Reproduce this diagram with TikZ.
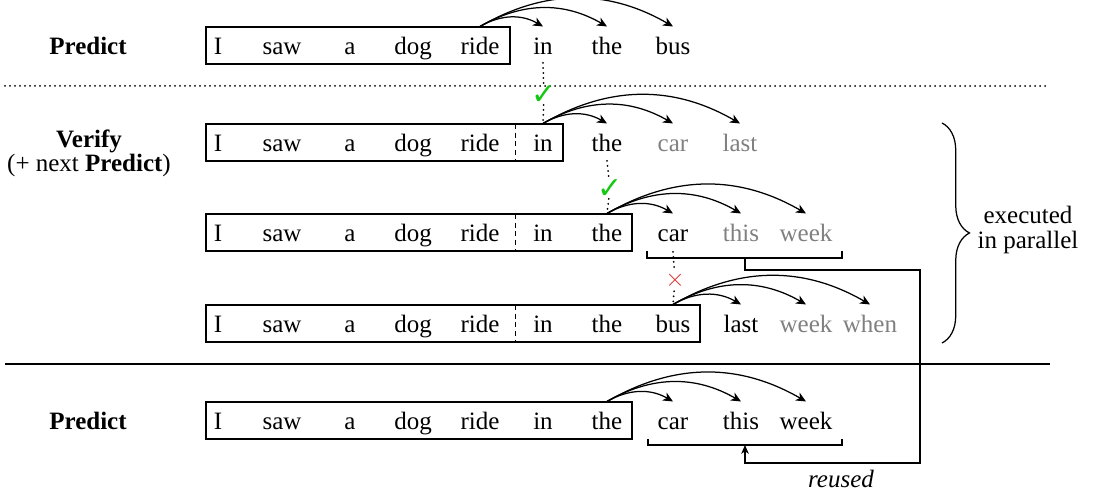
\documentclass[tikz,border=0pt]{standalone}
\usepackage{fontspec}
\setmainfont{Liberation Serif}
\newfontfamily\symfont{DejaVu Sans}
\usetikzlibrary{arrows.meta,calc,decorations.pathreplacing}
\definecolor{okgreen}{RGB}{20,200,20}
\definecolor{badred}{RGB}{220,50,50}
\begin{document}
\begin{tikzpicture}[x=0.4pt,y=-0.4pt,
  word/.style={anchor=base, inner xsep=0pt, inner ysep=4.2pt, text height=7pt, text depth=2pt},
  gw/.style={word, text=gray},
  box/.style={draw, line width=0.5pt},
  divider/.style={line width=0.4pt, dash pattern=on 2pt off 1.5pt},
  arc/.style={-{Stealth[length=4pt,width=3.6pt,inset=1.2pt]}, line width=0.5pt, bend left=30},
  dots/.style={line width=0.8pt, line cap=round, dash pattern=on 0pt off 2pt},
  chk/.style={text=okgreen, font=\symfont\large, inner sep=0pt},
  crs/.style={text=badred, inner sep=1pt},
  bracket/.style={line width=0.5pt},
  reuse/.style={line width=0.5pt, -{Stealth[length=3.5pt,width=3pt,inset=1pt]}},
  lbl/.style={anchor=base, font=\bfseries}
]
\useasboundingbox (0,0) rectangle (1095,497);

% separators
\draw[dots] (5,86) -- (1050,86);
\draw[line width=0.8pt] (5,364) -- (1050,364);

% labels
\node[lbl] (p1) at (88,55) {Predict};
\node[align=center, inner sep=0pt] (v) at (89,153) {\textbf{Verify}\\[-2.5pt](+ next \textbf{Predict})};
\node[lbl] (p2) at (88,430) {Predict};

% ---------- row 1 ----------
\draw[box] (206,27) rectangle (510,64);
\node[word] (r1i) at (218,55) {I};
\node[word] (r1saw) at (282,55) {saw};
\node[word] (r1a) at (350,55) {a};
\node[word] (r1dog) at (413,55) {dog};
\node[word] (r1ride) at (480,55) {ride};
\node[word] (r1in) at (543,55) {in};
\node[word] (r1the) at (607,55) {the};
\node[word] (r1bus) at (673,55) {bus};
\draw[arc] (r1ride.north) to (r1in.north);
\draw[arc] (r1ride.north) to (r1the.north);
\draw[arc] (r1ride.north) to (r1bus.north);

% ---------- row 2 ----------
\draw[box] (206,124) rectangle (563,161);
\draw[divider] (515,124) -- (515,161);
\node[word] (r2i) at (218,152) {I};
\node[word] (r2saw) at (282,152) {saw};
\node[word] (r2a) at (350,152) {a};
\node[word] (r2dog) at (413,152) {dog};
\node[word] (r2ride) at (480,152) {ride};
\node[word] (r2in) at (543,152) {in};
\node[word] (r2the) at (607,152) {the};
\node[gw] (r2car) at (673,152) {car};
\node[gw] (r2last) at (740,152) {last};
\draw[arc] (r2in.north) to (r2the.north);
\draw[arc] (r2in.north) to (r2car.north);
\draw[arc] (r2in.north) to (r2last.north);

% ---------- row 3 ----------
\draw[box] (206,214) rectangle (632,251);
\draw[divider] (515,214) -- (515,251);
\node[word] (r3i) at (218,242) {I};
\node[word] (r3saw) at (282,242) {saw};
\node[word] (r3a) at (350,242) {a};
\node[word] (r3dog) at (413,242) {dog};
\node[word] (r3ride) at (480,242) {ride};
\node[word] (r3in) at (543,242) {in};
\node[word] (r3the) at (607,242) {the};
\node[word] (r3car) at (673,242) {car};
\node[gw] (r3this) at (741,242) {this};
\node[gw] (r3week) at (806,242) {week};
\draw[arc] (r3the.north) to (r3car.north);
\draw[arc] (r3the.north) to (r3this.north);
\draw[arc] (r3the.north) to (r3week.north);
\draw[bracket] (647,251) -- (647,258) -- (842,258) -- (842,251);
\coordinate (b3) at (745,258);

% ---------- row 4 ----------
\draw[box] (206,305) rectangle (700,342);
\draw[divider] (515,305) -- (515,342);
\node[word] (r4i) at (218,333) {I};
\node[word] (r4saw) at (282,333) {saw};
\node[word] (r4a) at (350,333) {a};
\node[word] (r4dog) at (413,333) {dog};
\node[word] (r4ride) at (480,333) {ride};
\node[word] (r4in) at (543,333) {in};
\node[word] (r4the) at (607,333) {the};
\node[word] (r4bus) at (673,333) {bus};
\node[word] (r4last) at (741,333) {last};
\node[gw] (r4week) at (806,333) {week};
\node[gw] (r4when) at (870,333) {when};
\draw[arc] (r4bus.north) to (r4last.north);
\draw[arc] (r4bus.north) to (r4week.north);
\draw[arc] (r4bus.north) to (r4when.north);

% ---------- row 5 ----------
\draw[box] (206,402) rectangle (632,439);
\node[word] (r5i) at (218,430) {I};
\node[word] (r5saw) at (282,430) {saw};
\node[word] (r5a) at (350,430) {a};
\node[word] (r5dog) at (413,430) {dog};
\node[word] (r5ride) at (480,430) {ride};
\node[word] (r5in) at (543,430) {in};
\node[word] (r5the) at (607,430) {the};
\node[word] (r5car) at (673,430) {car};
\node[word] (r5this) at (741,430) {this};
\node[word] (r5week) at (806,430) {week};
\draw[arc] (r5the.north) to (r5car.north);
\draw[arc] (r5the.north) to (r5this.north);
\draw[arc] (r5the.north) to (r5week.north);
\draw[bracket] (648,439) -- (648,445) -- (842,445) -- (842,439);
\coordinate (b5) at (745,445);

% ---------- verification marks ----------
\node[chk] (c1) at (544,95) {✓};
\draw[dots] ($(r1in.base)+(0,8)$) -- (c1);
\draw[dots] (c1) -- (r2in.north);
\node[chk] (c2) at (610,189) {✓};
\draw[dots] ($(r2the.base)+(0,9)$) -- (c2);
\draw[dots] (c2) -- (r3the.north);
\node[crs] (x1) at (675,280) {$\times$};
\draw[dots] ($(r3car.base)+(0,10)$) -- (x1);
\draw[dots] (x1) -- (r4bus.north);

% ---------- reuse connector ----------
\coordinate (k1) at (920,270);
\coordinate (k2) at (920,463);
\draw[reuse] (b3) |- (k1) -- (k2) -| (b5);
\node[anchor=base, font=\itshape] (reused) at (841,488) {reused};

% ---------- brace ----------
\draw[line width=0.5pt, decorate, decoration={brace, amplitude=11pt}] (942,123) -- (942,343);
\node[align=center, inner sep=0pt] (par) at (1028,230) {executed\\[-2pt]in parallel};
\end{tikzpicture}
\end{document}
